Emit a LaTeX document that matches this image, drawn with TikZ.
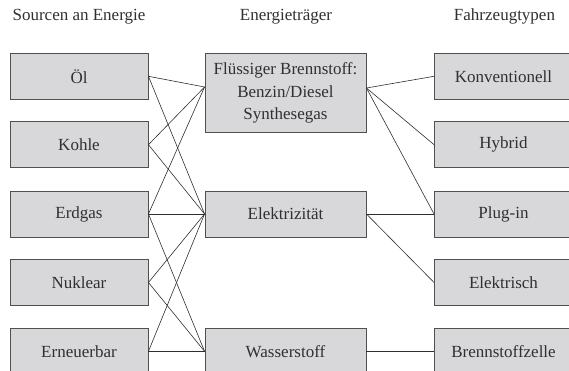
\documentclass[tikz,border=0pt]{standalone}
\usepackage{fontspec}
\setmainfont{Liberation Serif}
\definecolor{boxfill}{HTML}{D8D8DA}
\definecolor{boxline}{HTML}{505050}
\definecolor{txt}{HTML}{303030}
\definecolor{conn}{HTML}{2E2E2E}
\tikzset{
  every node/.style={text=txt, font=\fontsize{17}{22.5}\selectfont},
  box/.style={draw=boxline, fill=boxfill, line width=0.9pt, rectangle, inner sep=0pt, minimum height=46pt, align=center},
  lbox/.style={box, minimum width=138pt},
  mbox/.style={box, minimum width=161pt},
  rbox/.style={box, minimum width=138pt},
  head/.style={anchor=base},
  link/.style={draw=conn, line width=0.6pt}
}
\begin{document}
\begin{tikzpicture}[x=1pt,y=-1pt]
\useasboundingbox (0,0) rectangle (569,371);
\begin{scope}
\clip (0,0) rectangle (569,371);
% headers
\node[head] (h1) at (79,20.7) {Sourcen an Energie};
\node[head] (h2) at (286,20.7) {Energieträger};
\node[head] (h3) at (504.5,20.7) {Fahrzeugtypen};
% left column
\node[lbox] (oel) at (79,76.3) {Öl};
\node[lbox] (kohle) at (79,144.7) {Kohle};
\node[lbox] (erdgas) at (79,214) {Erdgas};
\node[lbox] (nuklear) at (79,282.5) {Nuklear};
\node[lbox] (erneu) at (79,351.3) {Erneuerbar};
% middle column
\node[mbox, minimum height=79.4pt] (fl) at (285.5,93) {Flüssiger Brennstoff:\\Benzin/Diesel\\Synthesegas};
\node[mbox] (el) at (285.5,214) {Elektrizität};
\node[mbox] (ws) at (285.5,351.3) {Wasserstoff};
% right column
\node[rbox] (konv) at (503.5,76.3) {Konventionell};
\node[rbox] (hyb) at (503.5,144.7) {Hybrid};
\node[rbox] (plug) at (503.5,214) {Plug-in};
\node[rbox] (elek) at (503.5,282.5) {Elektrisch};
\node[rbox] (bz) at (503.5,351.3) {Brennstoffzelle};
% anchor points on the fuel box
\coordinate (flL) at ([yshift=6pt]fl.west);
\coordinate (flR) at ([yshift=5pt]fl.east);
% connectors left
\draw[link] (oel.east) -- (flL);
\draw[link] (oel.east) -- (el.west);
\draw[link] (kohle.east) -- (flL);
\draw[link] (kohle.east) -- (el.west);
\draw[link] (erdgas.east) -- (flL);
\draw[link] (erdgas.east) -- (el.west);
\draw[link] (erdgas.east) -- (ws.west);
\draw[link] (nuklear.east) -- (el.west);
\draw[link] (nuklear.east) -- (ws.west);
\draw[link] (erneu.east) -- (el.west);
\draw[link] (erneu.east) -- (ws.west);
% connectors right
\draw[link] (flR) -- (konv.west);
\draw[link] (flR) -- (hyb.west);
\draw[link] (flR) -- (plug.west);
\draw[link] (el.east) -- (plug.west);
\draw[link] (el.east) -- (elek.west);
\draw[link] (ws.east) -- (bz.west);
\end{scope}
\end{tikzpicture}
\end{document}
